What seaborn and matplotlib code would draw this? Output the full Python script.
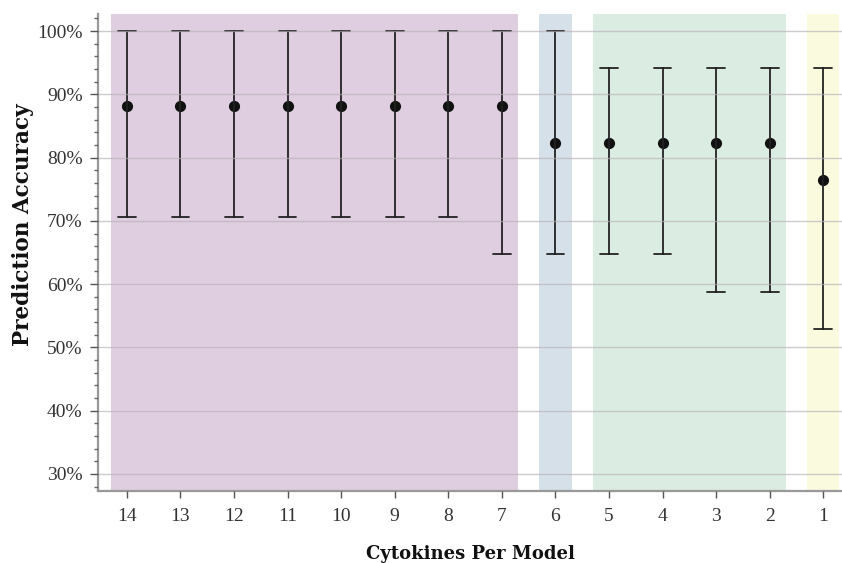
import pandas as pd
import matplotlib.pyplot as plt
import matplotlib.ticker as mticker
import seaborn as sns

# Cytokines per model, plotted from 14 down to 1
cytokines = ['14', '13', '12', '11', '10', '9', '8', '7', '6', '5', '4', '3', '2', '1']
accuracy = [0.882, 0.882, 0.882, 0.882, 0.882, 0.882, 0.882, 0.882,
            0.8235, 0.8235, 0.8235, 0.8235, 0.8235, 0.765]
lower = [0.706, 0.706, 0.706, 0.706, 0.706, 0.706, 0.706, 0.647,
         0.647, 0.647, 0.647, 0.588, 0.588, 0.529]
upper = [1.0, 1.0, 1.0, 1.0, 1.0, 1.0, 1.0, 1.0,
         1.0, 0.941, 0.941, 0.941, 0.941, 0.941]

# shaded groups of models: (first, last, colour)
groups = [('14', '7', '#dfcee0'), ('6', '6', '#d5e0e8'),
          ('5', '2', '#dbece2'), ('1', '1', '#fafadf')]

# long table: low / estimate / high per model, median + full range gives the bar
rows = []
for c, lo, m, hi in zip(cytokines, lower, accuracy, upper):
    for v in (lo, m, hi):
        rows.append({'Cytokines': c, 'Accuracy': v})
df = pd.DataFrame(rows)

sns.set_style('ticks')
plt.rcParams['font.family'] = ['Liberation Serif', 'DejaVu Serif']

fig = plt.figure(figsize=(8.42, 5.63), dpi=100)
ax = fig.add_axes([0.1164, 0.1279, 0.8836, 0.8472])

for first, last, col in groups:
    i0 = cytokines.index(first)
    i1 = cytokines.index(last)
    ax.axvspan(i0 - 0.3, i1 + 0.3, color=col, zorder=0, lw=0)

sns.pointplot(data=df, x='Cytokines', y='Accuracy', order=cytokines,
              estimator='median', errorbar=('pi', 100), capsize=0.33,
              linestyle='none', color='#111111', markersize=6,
              err_kws={'linewidth': 1.3, 'color': '#222222'}, ax=ax)

ax.set_ylim(0.273, 1.027)
ax.set_xlim(-0.54, 13.35)
ax.yaxis.set_major_locator(mticker.MultipleLocator(0.1))
ax.yaxis.set_minor_locator(mticker.MultipleLocator(0.02))
ax.yaxis.set_major_formatter(mticker.PercentFormatter(1.0, decimals=0))
ax.grid(axis='y', which='major', color='#b8b0b8', linewidth=1.0, alpha=0.65, zorder=1)
ax.set_axisbelow(False)

ax.tick_params(axis='both', labelsize=14, colors='#555555', labelcolor='#333333')
ax.tick_params(axis='y', which='major', length=6, width=1, pad=5)
ax.tick_params(axis='y', which='minor', length=3, width=1, color='#666666')
ax.tick_params(axis='x', length=5, width=1, pad=7)

sns.despine(ax=ax)
for s in ('left', 'bottom'):
    ax.spines[s].set_color('#999999')
    ax.spines[s].set_linewidth(1.6)

ax.set_xlabel('Cytokines Per Model', fontsize=13, fontweight='bold',
              family='DejaVu Serif', color='#111111')
ax.set_ylabel('Prediction Accuracy', fontsize=15.5, fontweight='bold',
              family='DejaVu Serif', color='#111111')
ax.xaxis.set_label_coords(0.5, -0.113)
ax.yaxis.set_label_coords(-0.086, 0.558)

fig.savefig('out.png', dpi=100)
